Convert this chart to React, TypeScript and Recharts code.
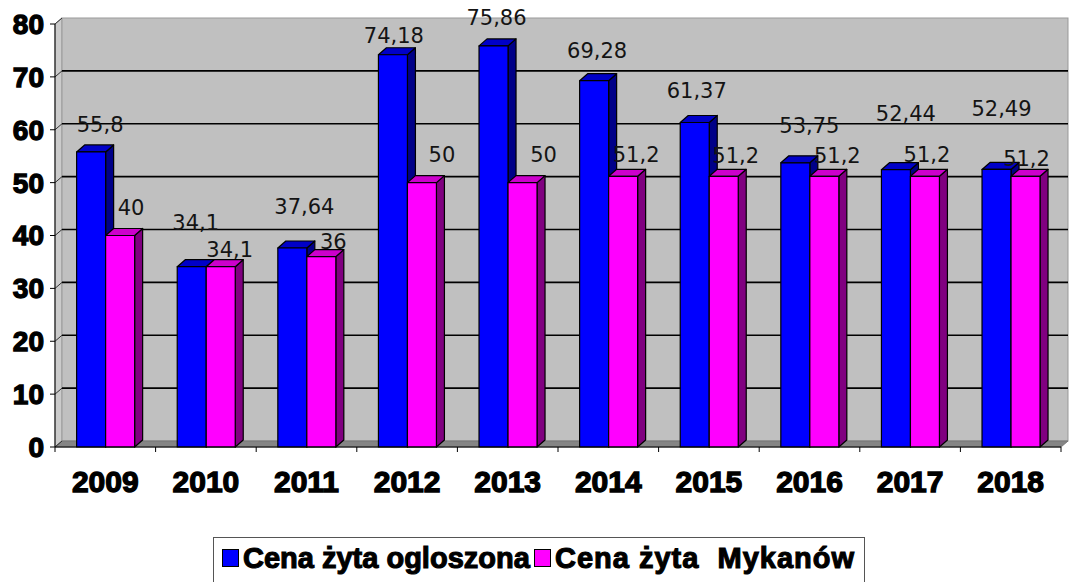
import React from 'react'
import { BarChart, Bar, XAxis, YAxis, CartesianGrid, LabelList } from 'recharts'

const years = ['2009', '2010', '2011', '2012', '2013', '2014', '2015', '2016', '2017', '2018']
const announcedPrice = [55.8, 34.1, 37.64, 74.18, 75.86, 69.28, 61.37, 53.75, 52.44, 52.49]
const mykanowPrice = [40, 34.1, 36, 50, 50, 51.2, 51.2, 51.2, 51.2, 51.2]
const yTicks = [0, 10, 20, 30, 40, 50, 60, 70, 80]

// where the value labels sit relative to the bar top (like excel moved them around)
const announcedLabelDx = [9, 4, 12, 1, 3, 3, 2, 14, 10, 5]
const announcedLabelLift = [20, 37, 34, 12, 21, 23, 25, 30, 49, 53]
const mykanowLabelDx = [11, 9, 12, 20, 21, 13, 12, 13, 2, 1]
const mykanowLabelLift = [21, 10, 8, 21, 21, 14, 13, 13, 14, 10]

const data = years.map((year, i) => ({
  year,
  announced: announcedPrice[i],
  mykanow: mykanowPrice[i],
}))

// depth of the back wall and of the bars (fake 3d)
const DX = 7
const DY = -6
const BX = 8
const BY = -7

const AXIS_FONT = '"Liberation Sans", Arial, sans-serif'
const LABEL_FONT = '"DejaVu Sans", Verdana, sans-serif'

const fmt = (v: number) => String(v).replace('.', ',')

function Wall({ x, y, width, height }: any) {
  const b = y + height
  const step = width / years.length
  return (
    <g>
      <polygon
        points={`${x},${y} ${x + DX},${y + DY} ${x + DX},${b + DY} ${x},${b}`}
        fill="#cbcbcb"
        stroke="#999"
      />
      <rect x={x + DX} y={y + DY} width={width} height={height} fill="#c0c0c0" stroke="#999" />
      <polygon
        points={`${x},${b} ${x + DX},${b + DY} ${x + width + DX},${b + DY} ${x + width},${b}`}
        fill="#858585"
        stroke="#777"
      />
      {years.map((_, i) => (
        <line key={i} x1={x + step * i} y1={b} x2={x + step * i} y2={b + 5} stroke="#000" />
      ))}
      <line x1={x + width} y1={b} x2={x + width} y2={b + 5} stroke="#000" />
    </g>
  )
}

const gridLine = (p: any) => {
  const { x1, x2, y1, index, x, y, width, height } = p
  const edge = Math.abs(y1 - y) < 0.5 || Math.abs(y1 - (y + height)) < 0.5
  return (
    <g key={`g-${index}`}>
      {index === 0 && <Wall x={x} y={y} width={width} height={height} />}
      <line x1={x1} y1={y1} x2={x1 + DX} y2={y1 + DY} stroke="#333" />
      {!edge && (
        <line x1={x1 + DX} y1={y1 + DY} x2={x2 + DX} y2={y1 + DY} stroke="#000" strokeWidth={1.6} />
      )}
    </g>
  )
}

function Bar3D({ x, y, width, height, front, top, side }: any) {
  if (!height) return null
  const r = x + width
  const b = y + height
  return (
    <g stroke="#000" strokeWidth={1.2} strokeLinejoin="round">
      <polygon points={`${r},${y} ${r + BX},${y + BY} ${r + BX},${b + BY} ${r},${b}`} fill={side} />
      <polygon points={`${x},${y} ${x + BX},${y + BY} ${r + BX},${y + BY} ${r},${y}`} fill={top} />
      <rect x={x} y={y} width={width} height={height} fill={front} />
    </g>
  )
}

const valueLabel = (dxs: number[], lifts: number[]) => (p: any) => {
  const { x, y, width, value, index } = p
  return (
    <text
      key={`l-${index}`}
      x={x + width / 2 + dxs[index]}
      y={y - lifts[index]}
      textAnchor="middle"
      fontFamily={LABEL_FONT}
      fontSize={21}
      fill="#141414"
    >
      {fmt(value)}
    </text>
  )
}

const XTick = ({ x, y, payload }: any) => (
  <text
    x={x}
    y={y + 45}
    textAnchor="middle"
    fontFamily={AXIS_FONT}
    fontWeight="bold"
    fontSize={30}
    fill="#000"
    stroke="#000"
    strokeWidth={1.3}
  >
    {payload.value}
  </text>
)

const square = (color: string, left: number) => (
  <div
    style={{
      position: 'absolute',
      left,
      top: 11,
      width: 15,
      height: 16,
      background: color,
      border: '1px solid #000',
    }}
  />
)

const legendText = (text: string, left: number, spacing: number) => (
  <div
    style={{
      position: 'absolute',
      left,
      top: 5,
      fontFamily: AXIS_FONT,
      fontWeight: 'bold',
      fontSize: 29,
      lineHeight: '30px',
      whiteSpace: 'pre',
      letterSpacing: spacing,
      color: '#000',
      WebkitTextStroke: '1.1px #000',
    }}
  >
    {text}
  </div>
)

export default function App() {
  return (
    <div
      style={{
        position: 'absolute',
        left: 0,
        top: 0,
        width: 1072,
        height: 582,
        overflow: 'hidden',
        background: '#fff',
      }}
    >
      <BarChart
        width={1072}
        height={582}
        data={data}
        margin={{ top: 24, right: 11, left: 0, bottom: 0 }}
        barCategoryGap="21.5%"
        barGap={0}
      >
        <CartesianGrid vertical={false} horizontal={gridLine} fill="none" />
        <XAxis
          dataKey="year"
          height={135}
          axisLine={{ stroke: '#000' }}
          tickLine={false}
          tickSize={0}
          tickMargin={0}
          tick={<XTick />}
          interval={0}
        />
        <YAxis
          width={55}
          domain={[0, 80]}
          ticks={yTicks}
          interval={0}
          axisLine={{ stroke: '#000' }}
          tickLine={{ stroke: '#000' }}
          tickSize={5}
          tickMargin={6}
          tick={{
            fill: '#000',
            stroke: '#000',
            strokeWidth: 1.3,
            fontSize: 28,
            fontWeight: 'bold',
            fontFamily: AXIS_FONT,
          }}
        />
        <Bar
          dataKey="announced"
          isAnimationActive={false}
          shape={(p: any) => <Bar3D {...p} front="#0000ff" top="#0000c8" side="#000088" />}
        >
          <LabelList dataKey="announced" content={valueLabel(announcedLabelDx, announcedLabelLift)} />
        </Bar>
        <Bar
          dataKey="mykanow"
          isAnimationActive={false}
          shape={(p: any) => <Bar3D {...p} front="#ff00ff" top="#cc00cc" side="#800080" />}
        >
          <LabelList dataKey="mykanow" content={valueLabel(mykanowLabelDx, mykanowLabelLift)} />
        </Bar>
      </BarChart>
      <div
        style={{
          position: 'absolute',
          left: 213,
          top: 537,
          width: 652,
          height: 52,
          border: '1px solid #555',
          boxSizing: 'border-box',
          background: '#fff',
        }}
      >
        {square('#0000ff', 8)}
        {legendText('Cena żyta ogloszona', 29, 0)}
        {square('#ff00ff', 320)}
        {legendText('Cena żyta  Mykanów', 341, 1)}
      </div>
    </div>
  )
}
